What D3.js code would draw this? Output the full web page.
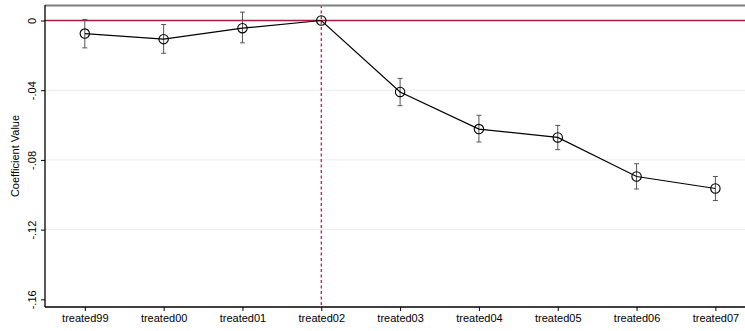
<!DOCTYPE html>
<html>
<head>
<meta charset="utf-8">
<script src="https://cdn.jsdelivr.net/npm/d3@7"></script>
<style>
  html, body { margin: 0; padding: 0; background: #fff; }
  svg { display: block; font-family: "Liberation Sans", Arial, sans-serif; }
</style>
</head>
<body>
<svg id="chart" width="745" height="331"></svg>
<script>
// Event-study coefficients with confidence intervals
const categories = ["treated99", "treated00", "treated01", "treated02", "treated03",
                    "treated04", "treated05", "treated06", "treated07"];
const coef  = [-0.0075, -0.0107, -0.0044, 0.0, -0.0410, -0.0623, -0.0671, -0.0895, -0.0964];
const ciLow = [-0.0157, -0.0188, -0.0128, null, -0.0489, -0.0697, -0.0741, -0.0967, -0.1033];
const ciHigh = [0.0006, -0.0023, 0.0048, null, -0.0332, -0.0544, -0.0602, -0.0822, -0.0895];
const yTicks = [0, -0.04, -0.08, -0.12, -0.16];
const yTickLabels = ["0", "-.04", "-.08", "-.12", "-.16"];
const gridValues = [-0.04, -0.08, -0.12];
const baseCategory = "treated02";

const svg = d3.select("#chart");
const plotLeft = 45, plotRight = 745, plotTop = 5, plotBottom = 307;

const x = d3.scaleLinear().domain([-0.505, 8.3755]).range([plotLeft, plotRight]);
const y = d3.scaleLinear().domain([-0.1644, 0.0089]).range([plotBottom, plotTop]);

// gridlines
svg.append("g").selectAll("line").data(gridValues).join("line")
  .attr("x1", plotLeft).attr("x2", plotRight)
  .attr("y1", d => y(d)).attr("y2", d => y(d))
  .attr("stroke", "#ebebeb").attr("stroke-width", 1);

// reference line at zero
svg.append("line")
  .attr("x1", plotLeft).attr("x2", plotRight)
  .attr("y1", y(0)).attr("y2", y(0))
  .attr("stroke", "#b5173d").attr("stroke-width", 1.3);

// vertical dashed line at the base period
const bx = x(categories.indexOf(baseCategory));
svg.append("line")
  .attr("x1", bx).attr("x2", bx)
  .attr("y1", plotTop).attr("y2", plotBottom)
  .attr("stroke", "#d4003c").attr("stroke-width", 1.2)
  .attr("stroke-dasharray", "3,2.5");

// top frame
svg.append("line")
  .attr("x1", plotLeft).attr("x2", plotRight)
  .attr("y1", plotTop + 0.5).attr("y2", plotTop + 0.5)
  .attr("stroke", "#808080").attr("stroke-width", 2);

// y axis
const yAxis = d3.axisLeft(y).tickValues(yTicks)
  .tickFormat((d, i) => yTickLabels[i]).tickSize(4).tickPadding(3);
const gy = svg.append("g").attr("transform", `translate(${plotLeft},0)`).call(yAxis);
gy.select(".domain").attr("stroke", "#000").attr("stroke-width", 1.3)
  .attr("d", `M-0,${plotTop}V${plotBottom}`);
gy.selectAll(".tick line").attr("stroke", "#000").attr("stroke-width", 1);
gy.selectAll(".tick text")
  .attr("transform", "rotate(-90)")
  .attr("x", 0).attr("y", -9).attr("dy", "0")
  .attr("text-anchor", "middle")
  .attr("font-size", 11).attr("fill", "#000")
  .style("font-family", "'Liberation Sans', Arial, sans-serif");

// x axis
const xAxis = d3.axisBottom(x).tickValues(d3.range(categories.length))
  .tickFormat(i => categories[i]).tickSize(4).tickPadding(3);
const gx = svg.append("g").attr("transform", `translate(0,${plotBottom})`).call(xAxis);
gx.select(".domain").attr("stroke", "#000").attr("stroke-width", 1.3)
  .attr("d", `M${plotLeft},0H${plotRight}`);
gx.selectAll(".tick line").attr("stroke", "#000").attr("stroke-width", 1);
gx.selectAll(".tick text").attr("font-size", 11).attr("fill", "#000")
  .style("font-family", "'Liberation Sans', Arial, sans-serif");

// y axis title
svg.append("text")
  .attr("transform", `translate(19,${(plotTop + plotBottom) / 2}) rotate(-90)`)
  .attr("text-anchor", "middle")
  .attr("font-size", 11).attr("fill", "#000")
  .text("Coefficient Value");

// confidence intervals
const ci = categories.map((c, i) => ({ i, lo: ciLow[i], hi: ciHigh[i] })).filter(d => d.lo !== null);
const cap = 2.5;
const gci = svg.append("g").attr("stroke", "#555").attr("stroke-width", 1).attr("fill", "none");
gci.selectAll("path").data(ci).join("path")
  .attr("d", d => {
    const cx = x(d.i), y1 = y(d.hi), y2 = y(d.lo);
    return `M${cx},${y1}V${y2}M${cx - cap},${y1}H${cx + cap}M${cx - cap},${y2}H${cx + cap}`;
  });

// connecting line
const line = d3.line().x((d, i) => x(i)).y(d => y(d));
svg.append("path").datum(coef)
  .attr("d", line).attr("fill", "none")
  .attr("stroke", "#000").attr("stroke-width", 1.2);

// markers
svg.append("g").selectAll("circle").data(coef).join("circle")
  .attr("cx", (d, i) => x(i)).attr("cy", d => y(d)).attr("r", 4.7)
  .attr("fill", "none").attr("stroke", "#000").attr("stroke-width", 1.1);
</script>
</body>
</html>
